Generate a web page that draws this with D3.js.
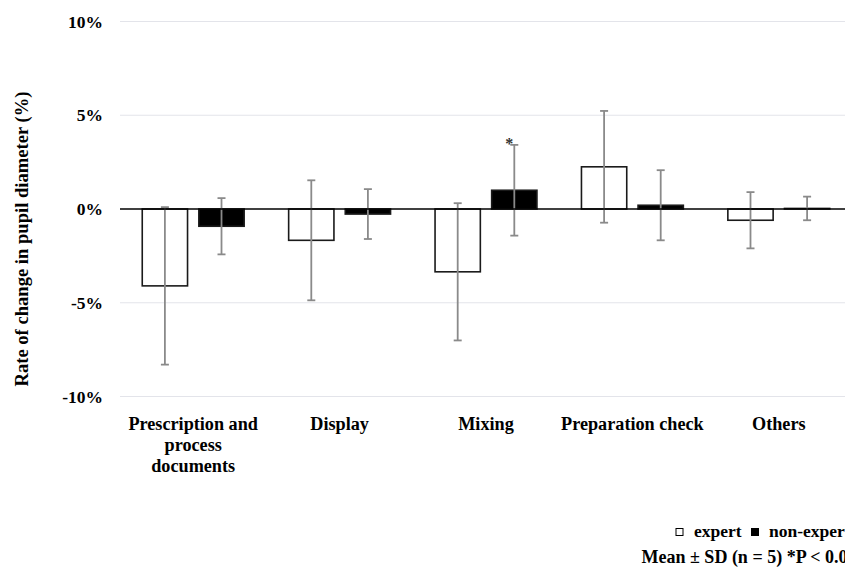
<!DOCTYPE html>
<html>
<head>
<meta charset="utf-8">
<script src="https://cdn.jsdelivr.net/npm/d3@7"></script>
<style>
  html, body { margin: 0; padding: 0; background: #fff; overflow: hidden; }
  svg { display: block; }
  text { font-family: "Liberation Serif", "Times New Roman", serif; font-weight: bold; }
</style>
</head>
<body>
<svg id="chart" width="845" height="570"></svg>
<script>
// ---- data ----
const categories = ["Prescription and process documents", "Display", "Mixing", "Preparation check", "Others"];
const categoryLabelLines = [["Prescription and", "process", "documents"], ["Display"], ["Mixing"], ["Preparation check"], ["Others"]];
const seriesNames = ["expert", "non-expert"];
const expertMean = [-4.1, -1.67, -3.35, 2.25, -0.6];
const expertSD = [4.2, 3.2, 3.66, 2.98, 1.5];
const nonExpertMean = [-0.92, -0.27, 1.0, 0.2, 0.03];
const nonExpertSD = [1.5, 1.33, 2.42, 1.87, 0.63];
const significant = [false, false, true, false, false]; // non-expert vs expert
const yTicks = [-10, -5, 0, 5, 10];
const yLabel = "Rate of change in pupil diameter (%)";
const footnote = "Mean \u00B1 SD (n = 5) *P < 0.05";

const rows = categories.map((c, i) => ({
  cat: c,
  values: [
    { key: "expert", mean: expertMean[i], sd: expertSD[i] },
    { key: "non-expert", mean: nonExpertMean[i], sd: nonExpertSD[i], sig: significant[i] }
  ]
}));

// ---- layout ----
const svg = d3.select("#chart");
const plotLeft = 120, plotRight = 852;
const y = d3.scaleLinear().domain([-10, 10]).range([396.5, 21.5]);
const x0 = d3.scaleBand().domain(categories).range([plotLeft, plotRight]).padding(0);
const bw = x0.bandwidth();
const x1 = d3.scaleBand().domain(seriesNames).range([bw * 0.152, bw * 0.848]).paddingInner(0.2).paddingOuter(0);

// gridlines
svg.append("g").selectAll("line").data(yTicks.filter(t => t !== 0)).join("line")
  .attr("x1", plotLeft).attr("x2", plotRight)
  .attr("y1", d => y(d)).attr("y2", d => y(d))
  .attr("stroke", "#e3e4ea").attr("stroke-width", 1.2);

// y axis tick labels
const yAxis = svg.append("g").attr("transform", `translate(${plotLeft},0)`)
  .call(d3.axisLeft(y).tickValues(yTicks).tickSize(0).tickPadding(17).tickFormat(d => d + "%"));
yAxis.select(".domain").remove();
yAxis.selectAll("text").attr("font-size", 17.5).attr("fill", "#000")
  .attr("font-family", "Liberation Serif, Times New Roman, serif").attr("font-weight", "bold");

// y label
svg.append("text")
  .attr("transform", `translate(28,${y(0) + 30}) rotate(-90)`)
  .attr("text-anchor", "middle")
  .attr("font-size", 18.6).attr("fill", "#000")
  .text(yLabel);

// bars
const groups = svg.append("g").selectAll("g").data(rows).join("g")
  .attr("transform", d => `translate(${x0(d.cat)},0)`);

groups.selectAll("rect").data(d => d.values).join("rect")
  .attr("x", d => x1(d.key))
  .attr("width", x1.bandwidth())
  .attr("y", d => y(Math.max(0, d.mean)))
  .attr("height", d => Math.abs(y(d.mean) - y(0)))
  .attr("fill", d => d.key === "expert" ? "#fff" : "#000")
  .attr("stroke", "#1a1a1a").attr("stroke-width", 1.6);

// zero line
svg.append("line")
  .attr("x1", plotLeft).attr("x2", plotRight)
  .attr("y1", y(0)).attr("y2", y(0))
  .attr("stroke", "#000").attr("stroke-width", 1.5);

// error bars
const eb = groups.selectAll("g.eb").data(d => d.values).join("g").attr("class", "eb");
const errColor = "#8a8a8a";
eb.append("line")
  .attr("x1", d => x1(d.key) + x1.bandwidth() / 2).attr("x2", d => x1(d.key) + x1.bandwidth() / 2)
  .attr("y1", d => y(d.mean + d.sd)).attr("y2", d => y(d.mean - d.sd))
  .attr("stroke", errColor).attr("stroke-width", 1.8);
[1, -1].forEach(s => {
  eb.append("line")
    .attr("x1", d => x1(d.key) + x1.bandwidth() / 2 - 4).attr("x2", d => x1(d.key) + x1.bandwidth() / 2 + 4)
    .attr("y1", d => y(d.mean + s * d.sd)).attr("y2", d => y(d.mean + s * d.sd))
    .attr("stroke", errColor).attr("stroke-width", 1.8);
});

// significance marks
eb.filter(d => d.sig).append("text")
  .attr("x", d => x1(d.key) + x1.bandwidth() / 2 - 5)
  .attr("y", d => y(d.mean + d.sd) + 4)
  .attr("text-anchor", "middle")
  .attr("font-size", 16).attr("font-weight", "normal").attr("fill", "#333")
  .text("*");

// category labels
const catLab = svg.append("g").selectAll("text").data(categories).join("text")
  .attr("x", d => x0(d) + bw / 2)
  .attr("y", 430)
  .attr("text-anchor", "middle")
  .attr("font-size", 18.2).attr("fill", "#000");
catLab.each(function(d, i) {
  d3.select(this).selectAll("tspan").data(categoryLabelLines[i]).join("tspan")
    .attr("x", x0(d) + bw / 2)
    .attr("dy", (l, j) => j === 0 ? 0 : 21)
    .text(l => l);
});

// legend
const legend = svg.append("g");
const legendItems = [
  { key: "expert", sx: 676, tx: 694 },
  { key: "non-expert", sx: 751.5, tx: 769 }
];
legend.selectAll("rect").data(legendItems).join("rect")
  .attr("x", d => d.sx).attr("y", 528.5).attr("width", 7).attr("height", 7)
  .attr("fill", d => d.key === "expert" ? "#fff" : "#000")
  .attr("stroke", "#000").attr("stroke-width", 1);
legend.selectAll("text").data(legendItems).join("text")
  .attr("x", d => d.tx).attr("y", 537)
  .attr("font-size", 17.5).attr("fill", "#000")
  .text(d => d.key);

svg.append("text")
  .attr("x", 641.5).attr("y", 563)
  .attr("font-size", 18).attr("fill", "#000")
  .text(footnote);
</script>
</body>
</html>
